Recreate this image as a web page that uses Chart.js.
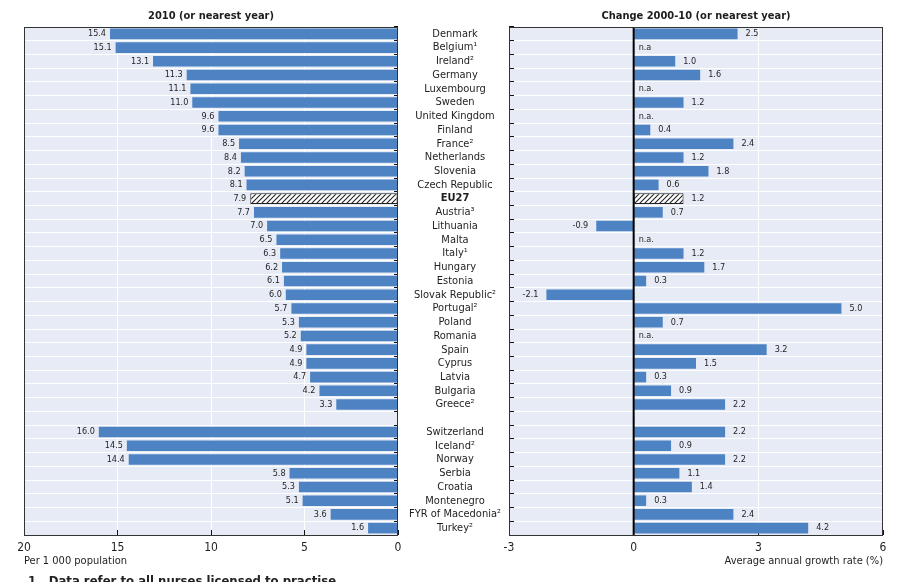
<!DOCTYPE html>
<html>
<head>
<meta charset="utf-8">
<script src="https://cdn.jsdelivr.net/npm/chart.js@4.4.1/dist/chart.umd.min.js"></script>
<style>
    body { margin: 0; background: #fff; width: 900px; height: 582px; overflow: hidden; position: relative; }
    #left { position: absolute; left: 0; top: 0; }
    #right { position: absolute; left: 478px; top: 0; }
    #note { position: absolute; left: 28px; top: 573px; font: bold 13px 'Liberation Sans Narrow', 'DejaVu Sans Condensed', sans-serif; color: #222; white-space: nowrap; }
</style>
</head>
<body>
<canvas id="left" width="510" height="582"></canvas>
<canvas id="right" width="422" height="582"></canvas>
<div id="note">1.&nbsp; Data refer to all nurses licensed to practise.</div>
<script>
const countries = ['Denmark', 'Belgium¹', 'Ireland²', 'Germany', 'Luxembourg', 'Sweden', 'United Kingdom', 'Finland',
    'France²', 'Netherlands', 'Slovenia', 'Czech Republic', 'EU27', 'Austria³', 'Lithuania', 'Malta', 'Italy¹',
    'Hungary', 'Estonia', 'Slovak Republic²', 'Portugal²', 'Poland', 'Romania', 'Spain', 'Cyprus', 'Latvia',
    'Bulgaria', 'Greece²', '', 'Switzerland', 'Iceland²', 'Norway', 'Serbia', 'Croatia', 'Montenegro',
    'FYR of Macedonia²', 'Turkey²'];

// per 1 000 population, 2010
const density2010 = [15.4, 15.1, 13.1, 11.3, 11.1, 11.0, 9.6, 9.6, 8.5, 8.4, 8.2, 8.1, 7.9, 7.7, 7.0, 6.5, 6.3,
    6.2, 6.1, 6.0, 5.7, 5.3, 5.2, 4.9, 4.9, 4.7, 4.2, 3.3, null, 16.0, 14.5, 14.4, 5.8, 5.3, 5.1, 3.6, 1.6];

// average annual growth rate 2000-10 (%)
const growth = [2.5, null, 1.0, 1.6, null, 1.2, null, 0.4, 2.4, 1.2, 1.8, 0.6, 1.2, 0.7, -0.9, null, 1.2,
    1.7, 0.3, -2.1, 5.0, 0.7, null, 3.2, 1.5, 0.3, 0.9, 2.2, null, 2.2, 0.9, 2.2, 1.1, 1.4, 0.3, 2.4, 4.2];

const notAvailable = { 'Belgium¹': 'n.a', 'Luxembourg': 'n.a.', 'United Kingdom': 'n.a.', 'Malta': 'n.a.', 'Romania': 'n.a.' };

const leftTicks = [0, 5, 10, 15, 20];
const rightTicks = [-3, 0, 3, 6];

const FAMILY = "'Liberation Sans Narrow', 'DejaVu Sans Condensed', sans-serif";
const BLUE = '#4d82c3';
const PANEL = '#e7ebf5';
const TEXT = '#1e1e1e';
const EU = countries.indexOf('EU27');

function makeHatch() {
    const c = document.createElement('canvas');
    c.width = 5; c.height = 5;
    const x = c.getContext('2d');
    x.fillStyle = '#fff';
    x.fillRect(0, 0, 5, 5);
    x.strokeStyle = '#222';
    x.lineWidth = 1.1;
    x.beginPath();
    x.moveTo(0, 5); x.lineTo(5, 0);
    x.moveTo(-2.5, 2.5); x.lineTo(2.5, -2.5);
    x.moveTo(2.5, 7.5); x.lineTo(7.5, 2.5);
    x.stroke();
    return x.createPattern(c, 'repeat');
}
const hatch = makeHatch();

// width of the widest country name, so the labels can be centred between the two panels
const measure = document.createElement('canvas').getContext('2d');
measure.font = '11px ' + FAMILY;
const widest = Math.max(...countries.map(c => measure.measureText(c).width));

// panel background, frame, panel title and the unit line under the x axis
const panel = {
    id: 'panel',
    beforeDraw(chart) {
        const { ctx, chartArea: a } = chart;
        ctx.save();
        ctx.fillStyle = PANEL;
        ctx.fillRect(a.left, a.top, a.right - a.left, a.bottom - a.top);
        ctx.restore();
    },
    afterDraw(chart) {
        const { ctx, chartArea: a } = chart;
        const o = chart.options.plugins.panel;
        ctx.save();
        ctx.strokeStyle = '#333';
        ctx.lineWidth = 1;
        ctx.strokeRect(Math.round(a.left) + 0.5, Math.round(a.top) + 0.5, Math.round(a.right - a.left) - 1, Math.round(a.bottom - a.top));
        ctx.fillStyle = TEXT;
        ctx.font = 'bold 11px ' + FAMILY;
        ctx.textAlign = 'center';
        ctx.textBaseline = 'middle';
        ctx.fillText(o.title, (a.left + a.right) / 2, 16);
        ctx.font = '11px ' + FAMILY;
        if (o.unitAlign === 'left') {
            ctx.textAlign = 'left';
            ctx.fillText(o.unit, a.left, 561);
        } else {
            ctx.textAlign = 'right';
            ctx.fillText(o.unit, a.right, 561);
        }
        ctx.restore();
    }
};

const valueLabels = {
    id: 'valueLabels',
    afterDatasetsDraw(chart) {
        const { ctx } = chart;
        const xs = chart.scales.x;
        const zero = xs.getPixelForValue(0);
        const meta = chart.getDatasetMeta(0);
        const data = chart.data.datasets[0].data;
        const side = chart.options.plugins.valueLabels.side;
        ctx.save();
        ctx.font = '9px ' + FAMILY;
        ctx.fillStyle = TEXT;
        ctx.textBaseline = 'middle';
        meta.data.forEach((bar, i) => {
            const v = data[i];
            if (v === null) {
                const na = notAvailable[countries[i]];
                if (na && side === 'right') {
                    ctx.textAlign = 'left';
                    ctx.fillText(na, zero + 5, bar.y);
                }
                return;
            }
            const txt = v.toFixed(1);
            if (side === 'left') {
                ctx.textAlign = 'right';
                ctx.fillText(txt, bar.x - 4, bar.y);
            } else if (v >= 0) {
                ctx.textAlign = 'left';
                ctx.fillText(txt, bar.x + 8, bar.y);
            } else {
                ctx.textAlign = 'right';
                ctx.fillText(txt, bar.x - 8, bar.y);
            }
        });
        if (side === 'right') {
            ctx.strokeStyle = '#000';
            ctx.lineWidth = 2;
            ctx.beginPath();
            ctx.moveTo(zero, chart.chartArea.top);
            ctx.lineTo(zero, chart.chartArea.bottom);
            ctx.stroke();
        }
        ctx.restore();
    }
};

function dataset(values) {
    return {
        data: values,
        backgroundColor: values.map((v, i) => i === EU ? hatch : BLUE),
        borderColor: '#222',
        borderWidth: values.map((v, i) => i === EU ? 1 : 0),
        borderSkipped: false,
        barPercentage: 0.77,
        categoryPercentage: 1
    };
}

const axisFont = { family: FAMILY, size: 12 };

function xAxis(min, max, tickValues, reverse) {
    return {
        type: 'linear',
        min: min,
        max: max,
        reverse: reverse,
        afterBuildTicks: scale => { scale.ticks = tickValues.map(v => ({ value: v })); },
        afterFit: scale => { scale.height = 47; },
        grid: { color: '#fff', lineWidth: 1, tickColor: '#111', tickLength: -5 },
        border: { display: false },
        ticks: { font: axisFont, color: TEXT, padding: 11, maxRotation: 0 }
    };
}

new Chart(document.getElementById('left'), {
    type: 'bar',
    data: { labels: countries, datasets: [dataset(density2010)] },
    plugins: [panel, valueLabels],
    options: {
        indexAxis: 'y',
        responsive: false,
        animation: false,
        layout: { padding: { left: 24, top: 27, right: 0, bottom: 0 } },
        plugins: {
            legend: { display: false },
            tooltip: { enabled: false },
            panel: { title: '2010 (or nearest year)', unit: 'Per 1 000 population', unitAlign: 'left' },
            valueLabels: { side: 'left' }
        },
        scales: {
            x: xAxis(0, 20, leftTicks, true),
            y: {
                position: 'right',
                afterFit: scale => { scale.width = 112; },
                grid: { color: '#fff', lineWidth: 1, tickColor: '#111', tickLength: -4, offset: true },
                border: { display: false },
                ticks: {
                    autoSkip: false,
                    crossAlign: 'center',
                    padding: 57 + 4 - widest / 2,
                    color: TEXT,
                    font: ctx => ({ family: FAMILY, size: 11, weight: ctx.index === EU ? 'bold' : 'normal' })
                }
            }
        }
    }
});

new Chart(document.getElementById('right'), {
    type: 'bar',
    data: { labels: countries, datasets: [dataset(growth)] },
    plugins: [panel, valueLabels],
    options: {
        indexAxis: 'y',
        responsive: false,
        animation: false,
        layout: { padding: { left: 31, top: 27, right: 17, bottom: 0 } },
        plugins: {
            legend: { display: false },
            tooltip: { enabled: false },
            panel: { title: 'Change 2000-10 (or nearest year)', unit: 'Average annual growth rate (%)', unitAlign: 'right' },
            valueLabels: { side: 'right' }
        },
        scales: {
            x: xAxis(-3, 6, rightTicks, false),
            y: {
                position: 'left',
                afterFit: scale => { scale.width = 0; },
                grid: { color: '#fff', lineWidth: 1, tickColor: '#111', tickLength: -5, offset: true },
                border: { display: false },
                ticks: { display: false }
            }
        }
    }
});
</script>
</body>
</html>
